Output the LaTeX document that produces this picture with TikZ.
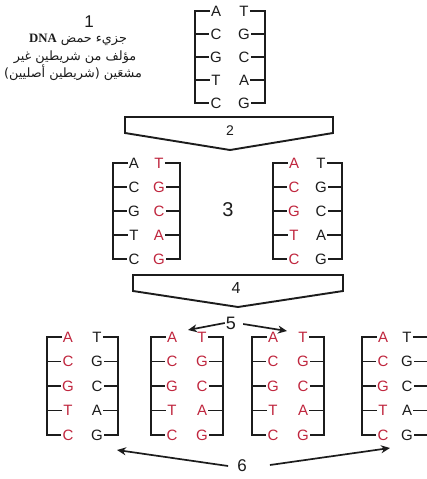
\documentclass[tikz,border=0pt]{standalone}
\usepackage{fontspec}
\setmainfont{Liberation Sans}
\newfontfamily\arabicfont[Script=Arabic]{DejaVu Sans}
\newfontfamily\serifL{Liberation Serif}
\TeXXeTstate=1
\usetikzlibrary{arrows.meta}
\definecolor{dnared}{RGB}{192,38,62}
\definecolor{ink}{RGB}{28,28,28}
\tikzset{
  base/.style={inner sep=1.2pt, font=\fontsize{15}{17}\selectfont},
  strand/.style={draw=ink, line width=1.8pt},
  chev/.style={draw=ink, line width=1.9pt, line join=miter},
  num/.style={text=ink, inner sep=1pt},
  arr/.style={draw=ink, line width=1.7pt, -{Stealth[length=9pt,width=8pt]}},
  arab/.style={text=ink, inner sep=0pt, font=\fontsize{12.8}{14}\arabicfont}
}
% #1 name, #2 left line x, #3 right line x, #4 top row y, #5 row spacing, #6 left colour, #7 right colour
\newcommand\dnamol[7]{%
  \foreach \l/\r [count=\i] in {A/T,C/G,G/C,T/A,C/G}{
    \pgfmathsetmacro\yy{-(#4+(\i-1)*#5)}
    \node[base, text=#6] (#1-l\i) at (#2+21,\yy) {\l};
    \node[base, text=#7] (#1-r\i) at (#3-21,\yy) {\r};
  }
  \foreach \i in {2,3,4}{
    \draw[strand] (#1-l\i.west -| #2,0) -- (#1-l\i.west);
    \draw[strand] (#1-r\i.east) -- (#1-r\i.east -| #3,0);
  }
  \draw[strand] (#1-l1.west) -- (#1-l1.west -| #2,0) -- (#1-l5.west -| #2,0) -- (#1-l5.west);
  \draw[strand] (#1-r1.east) -- (#1-r1.east -| #3,0) -- (#1-r5.east -| #3,0) -- (#1-r5.east);
}
\begin{document}
\begin{tikzpicture}[x=1pt,y=1pt]
\useasboundingbox (0,0) rectangle (427,-479);
\fill[white] (0,0) rectangle (427,-479);

% 1: original molecule
\node[num, font=\fontsize{17}{19}\selectfont] (n1) at (89,-22) {1};
\node[arab] (t1) at (78,-40) {\beginR جزيء حمض \beginL{\serifL\bfseries DNA}\endL\endR};
\node[arab] (t2) at (75,-57) {\beginR مؤلف من شريطين غير\endR};
\node[arab] (t3) at (73,-73) {\beginR مشعَين (شريطين أصليين)\endR};
\dnamol{m1}{195}{265}{11}{23}{ink}{ink}

% 2: first chevron
\draw[chev] (125,-117) -- (333,-117) -- (333,-133) -- (230,-150) -- (125,-133) -- cycle;
\node[num, font=\fontsize{14}{16}\selectfont] (n2) at (230,-131) {2};

% 3: first generation
\dnamol{m2}{113}{180}{163}{24}{ink}{dnared}
\dnamol{m3}{273}{342}{163}{24}{dnared}{ink}
\node[num, font=\fontsize{20}{22}\selectfont] (n3) at (228,-210) {3};

% 4: second chevron
\draw[chev] (133,-275) -- (343,-275) -- (343,-291) -- (238,-307) -- (133,-291) -- cycle;
\node[num, font=\fontsize{16}{18}\selectfont] (n4) at (236,-288) {4};

% 5
\node[num, font=\fontsize{18}{20}\selectfont] (n5) at (231,-323) {5};
\coordinate (h5a) at (188,-330);
\coordinate (h5b) at (287,-331);
\draw[arr] (n5.west) -- (h5a);
\draw[arr] (n5.east) ++(6,-1) coordinate (s5b) (s5b) -- (h5b);

% second generation
\dnamol{m4}{47}{118}{337}{24.5}{dnared}{ink}
\dnamol{m5}{151}{223}{337}{24.5}{dnared}{dnared}
\dnamol{m6}{252}{324}{337}{24.5}{dnared}{dnared}
\dnamol{m7}{362}{428}{337}{24.5}{dnared}{ink}

% 6
\node[num, font=\fontsize{17}{19}\selectfont] (n6) at (242,-466) {6};
\coordinate (h6a) at (117,-450);
\coordinate (h6b) at (390,-448);
\draw[arr] (n6.west) ++(-8,0) coordinate (s6a) (s6a) -- (h6a);
\draw[arr] (n6.east) ++(22,1) coordinate (s6b) (s6b) -- (h6b);
\end{tikzpicture}
\end{document}
